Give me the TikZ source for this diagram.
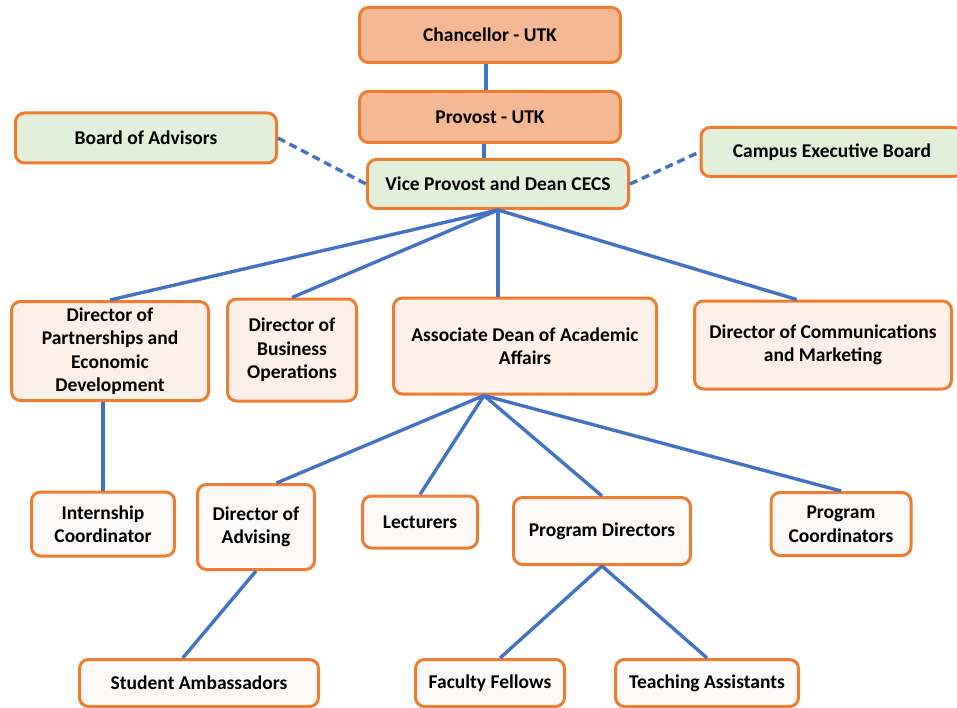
\documentclass[tikz,border=0pt]{standalone}
\usepackage{fontspec}
\setmainfont{Carlito}
\usepackage{xcolor}
\usetikzlibrary{positioning}
\definecolor{boxline}{HTML}{ED7D31}
\definecolor{peach}{HTML}{F4B994}
\definecolor{sage}{HTML}{E2EFDA}
\definecolor{blush}{HTML}{FCF0E8}
\definecolor{paper}{HTML}{FBF9F8}
\definecolor{linkblue}{HTML}{4472C4}
\tikzset{
  unit/.style={
    draw=boxline, line width=3pt, rounded corners=9pt,
    align=center, inner sep=0pt,
    font=\bfseries\fontsize{19.5}{23.5}\selectfont,
  },
  topbox/.style={unit, fill=peach},
  boardbox/.style={unit, fill=sage},
  deptbox/.style={unit, fill=blush},
  staffbox/.style={unit, fill=paper},
  link/.style={draw=linkblue, line width=3.4pt},
  advisory link/.style={link, dash pattern=on 8pt off 5pt},
}

\begin{document}
\begin{tikzpicture}[x=1pt, y=-1pt]

  \useasboundingbox (0,0) rectangle (957,708);

  % Define nodes
  \node[topbox, minimum width=261pt, minimum height=55pt] (chancellor) at (490,35) {Chancellor - UTK};
  \node[topbox, minimum width=261pt, minimum height=51pt] (provost) at (490,117) {Provost - UTK};
  \node[boardbox, minimum width=261pt, minimum height=49pt] (dean) at (498,184) {Vice Provost and Dean CECS};

  \node[boardbox, minimum width=261pt, minimum height=50pt] (advisors) at (146,138) {Board of Advisors};
  \node[boardbox, minimum width=262pt, minimum height=49pt] (exec) at (832,152) {Campus Executive Board};

  \node[deptbox, minimum width=197pt, minimum height=99pt] (partners) at (110,351) {Director of\\Partnerships and\\Economic\\Development};
  \node[deptbox, minimum width=129pt, minimum height=102pt] (business) at (292,350) {Director of\\Business\\Operations};
  \node[deptbox, minimum width=263pt, minimum height=96pt] (assoc) at (525,346) {Associate Dean of Academic\\Affairs};
  \node[deptbox, minimum width=257pt, minimum height=88pt] (comms) at (823,345) {Director of Communications\\and Marketing};

  \node[staffbox, minimum width=143pt, minimum height=64pt] (intern) at (103,524) {Internship\\Coordinator};
  \node[staffbox, minimum width=117pt, minimum height=85pt] (advising) at (256,527) {Director of\\Advising};
  \node[staffbox, minimum width=115pt, minimum height=52pt] (lecturers) at (420,522) {Lecturers};
  \node[staffbox, minimum width=177pt, minimum height=67pt] (progdir) at (602,531) {Program Directors};
  \node[staffbox, minimum width=140pt, minimum height=63pt] (progcoord) at (841,524) {Program\\Coordinators};

  \node[staffbox, minimum width=239pt, minimum height=47pt] (ambassadors) at (199,683) {Student Ambassadors};
  \node[staffbox, minimum width=149pt, minimum height=47pt] (fellows) at (490,683) {Faculty Fellows};
  \node[staffbox, minimum width=183pt, minimum height=47pt] (assistants) at (707,683) {Teaching Assistants};

  \coordinate (assoc fork) at ([xshift=-41pt]assoc.south);

  % Connect nodes
  \draw[link] ([xshift=-4pt]chancellor.south) -- ([xshift=-4pt]provost.north);
  \draw[link] ([xshift=-6pt]provost.south) -- ([xshift=-6pt]provost.south |- dean.north);

  \draw[advisory link] (advisors.east) -- (dean.west);
  \draw[advisory link] (dean.east) -- (exec.west);

  \draw[link] (dean.south) -- (partners.north);
  \draw[link] (dean.south) -- (business.north);
  \draw[link] (dean.south) -- (dean.south |- assoc.north);
  \draw[link] (dean.south) -- (comms.120);

  \draw[link] (intern.north |- partners.south) -- (intern.north);

  \draw[link] (assoc fork) -- (advising.65);
  \draw[link] (assoc fork) -- (lecturers.north);
  \draw[link] (assoc fork) -- (progdir.north);
  \draw[link] (assoc fork) -- (progcoord.north);

  \draw[link] (advising.south) -- (ambassadors.123);
  \draw[link] (progdir.south) -- (fellows.68);
  \draw[link] (progdir.south) -- (assistants.north);

\end{tikzpicture}
\end{document}
